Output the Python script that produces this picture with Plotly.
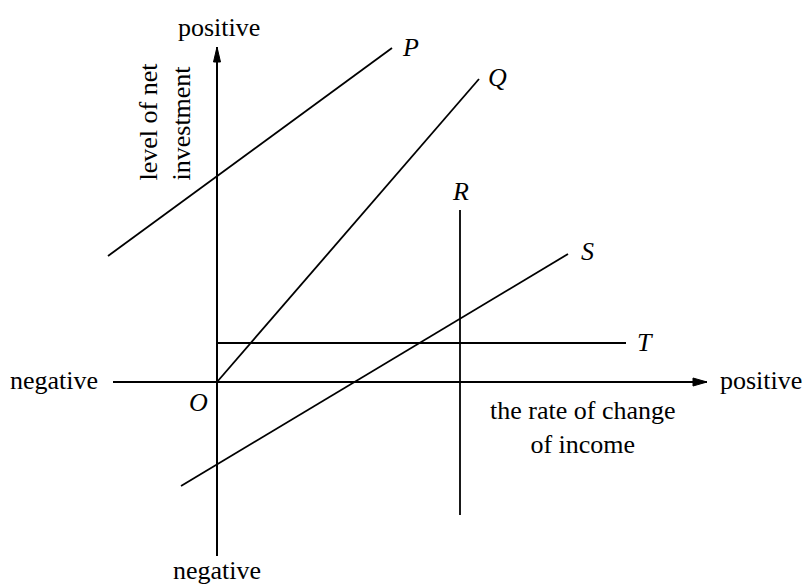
import plotly.graph_objects as go

# Schematic investment schedules (arbitrary units, origin at O)
P_x = [-10.9, 17.5]
P_y = [12.6, 33.4]
Q_x = [0.0, 26.2]
Q_y = [0.0, 30.3]
R_x = [24.3, 24.3]
R_y = [-13.3, 17.2]
S_x = [-3.6, 35.1]
S_y = [-10.4, 12.8]
T_x = [0.0, 40.9]
T_y = [3.9, 3.9]

schedules = {"P": (P_x, P_y), "Q": (Q_x, Q_y), "R": (R_x, R_y),
             "S": (S_x, S_y), "T": (T_x, T_y)}
# label positions next to each schedule
label_pos = {"P": (19.3, 33.5), "Q": (28.0, 30.5), "R": (24.3, 19.1),
             "S": (37.0, 13.1), "T": (42.8, 4.0)}

# axis extents
x_axis = [-10.4, 49.0]
y_axis = [-17.4, 33.5]

FONT = "Liberation Serif"
FS = 26
INK = "black"

fig = go.Figure()

# axes
fig.add_trace(go.Scatter(x=x_axis, y=[0, 0], mode="lines",
                         line=dict(color=INK, width=2), hoverinfo="skip"))
fig.add_trace(go.Scatter(x=[0, 0], y=y_axis, mode="lines",
                         line=dict(color=INK, width=2), hoverinfo="skip"))

# arrowheads as filled triangles at the positive ends
hl, hw = 1.4, 0.4
xt = x_axis[1]
fig.add_trace(go.Scatter(x=[xt, xt - hl, xt - hl, xt], y=[0, hw, -hw, 0],
                         mode="lines", fill="toself", fillcolor=INK,
                         line=dict(color=INK, width=1), hoverinfo="skip"))
yt = y_axis[1]
hl2, hw2 = 1.5, 0.35
fig.add_trace(go.Scatter(x=[0, hw2, -hw2, 0], y=[yt, yt - hl2, yt - hl2, yt],
                         mode="lines", fill="toself", fillcolor=INK,
                         line=dict(color=INK, width=1), hoverinfo="skip"))

# schedules
for name, (xs, ys) in schedules.items():
    fig.add_trace(go.Scatter(x=xs, y=ys, mode="lines",
                             line=dict(color=INK, width=1.8), hoverinfo="skip"))
    lx, ly = label_pos[name]
    fig.add_annotation(x=lx, y=ly, text=f"<i>{name}</i>", showarrow=False,
                       font=dict(family=FONT, size=FS, color=INK))

def note(x, y, text, **kw):
    fig.add_annotation(x=x, y=y, text=text, showarrow=False,
                       font=dict(family=FONT, size=FS, color=INK), **kw)

note(-1.9, -2.0, "<i>O</i>")
note(0.2, 35.5, "positive")
note(0.0, -18.8, "negative")
note(-11.7, 0.2, "negative", xanchor="right")
note(50.1, 0.2, "positive", xanchor="left")
note(36.6, -4.5, "the rate of change<br>of income")
note(-5.2, 26.05, "level of net<br>investment", textangle=-90, align="left")

fig.update_layout(
    width=805, height=585,
    margin=dict(l=0, r=0, t=0, b=0),
    paper_bgcolor="white", plot_bgcolor="white",
    showlegend=False,
    xaxis=dict(range=[-21.7, 58.8], visible=False, fixedrange=True),
    yaxis=dict(range=[-20.3, 38.2], visible=False, fixedrange=True),
)

fig.write_html("out.html")
